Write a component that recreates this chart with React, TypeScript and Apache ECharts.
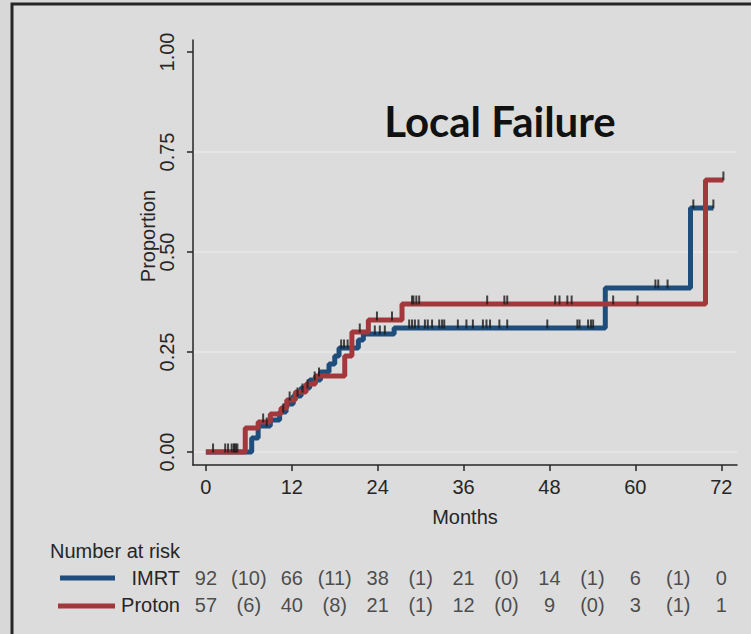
import React, { useEffect, useRef } from "react";
import * as echarts from "echarts";

// Axis ticks
const monthTicks = [0, 12, 24, 36, 48, 60, 72];
const proportionTicks = [0, 0.25, 0.5, 0.75, 1];
const gridValues = [0, 0.25, 0.5, 0.75];

// IMRT cumulative local failure (step starts)
const imrtStepMonths = [0, 6.4, 7.3, 9.0, 10.3, 11.2, 12.2, 13.3, 14.5, 16.0, 17.2, 18.0, 18.6, 21.3, 22.0, 26.3, 55.8, 67.7];
const imrtStepValues = [0, 0.035, 0.065, 0.08, 0.1, 0.12, 0.14, 0.16, 0.18, 0.2, 0.22, 0.24, 0.26, 0.28, 0.295, 0.31, 0.41, 0.61];
const imrtLastMonth = 70.9;
const imrtCensored = [
  4.0, 4.4, 8.5, 10.8, 12.8, 14.2, 15.2, 18.9, 19.3, 19.8, 23.6, 24.3, 25.0,
  28.4, 28.8, 29.2, 29.7, 30.6, 31.0, 31.6, 32.6, 33.0, 33.3, 35.2, 36.4, 37.3,
  38.7, 39.2, 39.7, 41.0, 42.1, 47.7, 51.9, 52.2, 53.4, 53.8, 54.1, 62.8, 63.2,
  64.5, 68.1, 70.9,
];

// Proton cumulative local failure (step starts)
const protonStepMonths = [0, 5.5, 7.3, 9.0, 10.5, 11.3, 12.5, 14.0, 15.3, 19.4, 20.4, 22.7, 27.4, 69.8];
const protonStepValues = [0, 0.06, 0.075, 0.095, 0.11, 0.13, 0.15, 0.17, 0.19, 0.24, 0.3, 0.33, 0.37, 0.68];
const protonLastMonth = 72.3;
const protonCensored = [
  1.0, 2.7, 3.1, 3.6, 3.9, 4.2, 8.0, 11.7, 13.5, 15.8, 21.5, 23.9, 26.0, 28.8,
  29.0, 29.4, 29.8, 39.3, 41.7, 42.1, 48.8, 49.4, 50.5, 51.1, 56.9, 60.3, 72.3,
];

// Number at risk table
const riskMonths = [0, 12, 24, 36, 48, 60, 72];
const intervalMonths = [6, 18, 30, 42, 54, 66];
const imrtAtRisk = [92, 66, 38, 21, 14, 6, 0];
const imrtEvents = [10, 11, 1, 0, 1, 1];
const protonAtRisk = [57, 40, 21, 12, 9, 3, 1];
const protonEvents = [6, 8, 1, 0, 0, 1];

const BLUE = "#1f4e7c";
const RED = "#a3383c";
const INK = "#262626";
const FONT = "'Liberation Sans', Arial, sans-serif";

function stepData(months: number[], values: number[], last: number) {
  const pts = months.map((m, i) => [m, values[i]]);
  pts.push([last, values[values.length - 1]]);
  return pts;
}

function valueAt(months: number[], values: number[], t: number) {
  let v = values[0];
  for (let i = 0; i < months.length; i++) if (months[i] <= t) v = values[i];
  return v;
}

function riskRow(name: string, atRisk: number[], events: number[]) {
  const rows: any[] = [];
  riskMonths.forEach((m, i) => rows.push([m, name, String(atRisk[i])]));
  intervalMonths.forEach((m, i) => rows.push([m, name, `(${events[i]})`]));
  return rows;
}

export default function App() {
  const ref = useRef<HTMLDivElement>(null);

  useEffect(() => {
    if (!ref.current) return;
    const chart = echarts.init(ref.current, null, { renderer: "svg" });

    const axisStyle = { color: INK, width: 1.5 };
    const censorSeries = (name: string, months: number[], values: number[], censored: number[]) => ({
      name: name + " censored",
      type: "scatter",
      xAxisIndex: 0,
      yAxisIndex: 0,
      symbol: "rect",
      symbolSize: [2, 9],
      symbolOffset: [0, -4],
      itemStyle: { color: "#1a1a1a" },
      z: 8,
      data: censored.map((t) => [t, valueAt(months, values, t)]),
    });

    chart.setOption({
      animation: false,
      backgroundColor: "#d8d8d8",
      grid: [
        { left: 193, right: 14, top: 40, height: 425 },
        { left: 193, right: 14, top: 564, height: 55 },
      ],
      xAxis: [
        {
          type: "value",
          gridIndex: 0,
          min: -1.8,
          max: 74.2,
          axisLine: { show: true, onZero: false, lineStyle: axisStyle },
          axisTick: { show: true, length: 6, customValues: monthTicks, lineStyle: axisStyle },
          axisLabel: { customValues: monthTicks, margin: 12, fontSize: 20, fontFamily: FONT, color: INK },
          splitLine: { show: false },
        },
        { type: "value", gridIndex: 1, min: -1.8, max: 74.2, show: false },
      ],
      yAxis: [
        {
          type: "value",
          gridIndex: 0,
          min: -0.0325,
          max: 1.03,
          axisLine: { show: true, onZero: false, lineStyle: axisStyle },
          axisTick: { show: true, length: 6, customValues: proportionTicks, lineStyle: axisStyle },
          axisLabel: {
            customValues: proportionTicks,
            rotate: 90,
            margin: 16,
            fontSize: 20,
            fontFamily: FONT,
            color: INK,
            formatter: (v: number) => v.toFixed(2),
          },
          splitLine: { show: false },
        },
        {
          type: "category",
          gridIndex: 1,
          data: ["Proton", "IMRT"],
          axisLine: { show: false },
          axisTick: { show: false },
          splitLine: { show: false },
          axisLabel: { margin: 13, fontSize: 20, fontFamily: FONT, color: INK },
        },
      ],
      series: [
        {
          name: "grid",
          type: "line",
          xAxisIndex: 0,
          yAxisIndex: 0,
          data: [],
          z: 0,
          markLine: {
            silent: true,
            z: 0,
            symbol: ["none", "none"],
            label: { show: false },
            lineStyle: { color: "#e8e8e8", width: 1.5, type: "solid" },
            data: gridValues.map((v) => ({ yAxis: v })),
          },
        },
        {
          name: "IMRT",
          type: "line",
          step: "end",
          xAxisIndex: 0,
          yAxisIndex: 0,
          showSymbol: false,
          z: 5,
          lineStyle: { color: BLUE, width: 5 },
          itemStyle: { color: BLUE },
          data: stepData(imrtStepMonths, imrtStepValues, imrtLastMonth),
        },
        {
          name: "Proton",
          type: "line",
          step: "end",
          xAxisIndex: 0,
          yAxisIndex: 0,
          showSymbol: false,
          z: 6,
          lineStyle: { color: RED, width: 5 },
          itemStyle: { color: RED },
          data: stepData(protonStepMonths, protonStepValues, protonLastMonth),
        },
        censorSeries("IMRT", imrtStepMonths, imrtStepValues, imrtCensored),
        censorSeries("Proton", protonStepMonths, protonStepValues, protonCensored),
        {
          name: "at risk",
          type: "scatter",
          xAxisIndex: 1,
          yAxisIndex: 1,
          symbolSize: 1,
          itemStyle: { color: "rgba(0,0,0,0)" },
          label: {
            show: true,
            position: "inside",
            formatter: (p: any) => p.value[2],
            fontSize: 20,
            fontFamily: FONT,
            color: INK,
          },
          data: [...riskRow("IMRT", imrtAtRisk, imrtEvents), ...riskRow("Proton", protonAtRisk, protonEvents)],
        },
      ],
      graphic: [
        {
          type: "rect",
          z: -1,
          shape: { x: 12, y: 4, width: 800, height: 700 },
          style: { fill: "#dcdcdc", stroke: "#262626", lineWidth: 3 },
        },
        {
          type: "text",
          x: 500,
          y: 121,
          style: { text: "Local Failure", font: "bold 42px Lato, 'Open Sans', sans-serif", fill: "#111", align: "center", verticalAlign: "middle" },
        },
        {
          type: "text",
          x: 148,
          y: 236,
          rotation: Math.PI / 2,
          style: { text: "Proportion", font: `20px ${FONT}`, fill: INK, align: "center", verticalAlign: "middle" },
        },
        {
          type: "text",
          x: 465,
          y: 517,
          style: { text: "Months", font: `20px ${FONT}`, fill: INK, align: "center", verticalAlign: "middle" },
        },
        {
          type: "text",
          x: 50,
          y: 551,
          style: { text: "Number at risk", font: `20px ${FONT}`, fill: INK, align: "left", verticalAlign: "middle" },
        },
        { type: "line", shape: { x1: 60, y1: 578, x2: 115, y2: 578 }, style: { stroke: BLUE, lineWidth: 5 } },
        { type: "line", shape: { x1: 58, y1: 606, x2: 115, y2: 606 }, style: { stroke: RED, lineWidth: 5 } },
      ],
    });

    return () => chart.dispose();
  }, []);

  return <div ref={ref} style={{ position: "absolute", left: 0, top: 0, width: 751, height: 634 }} />;
}
